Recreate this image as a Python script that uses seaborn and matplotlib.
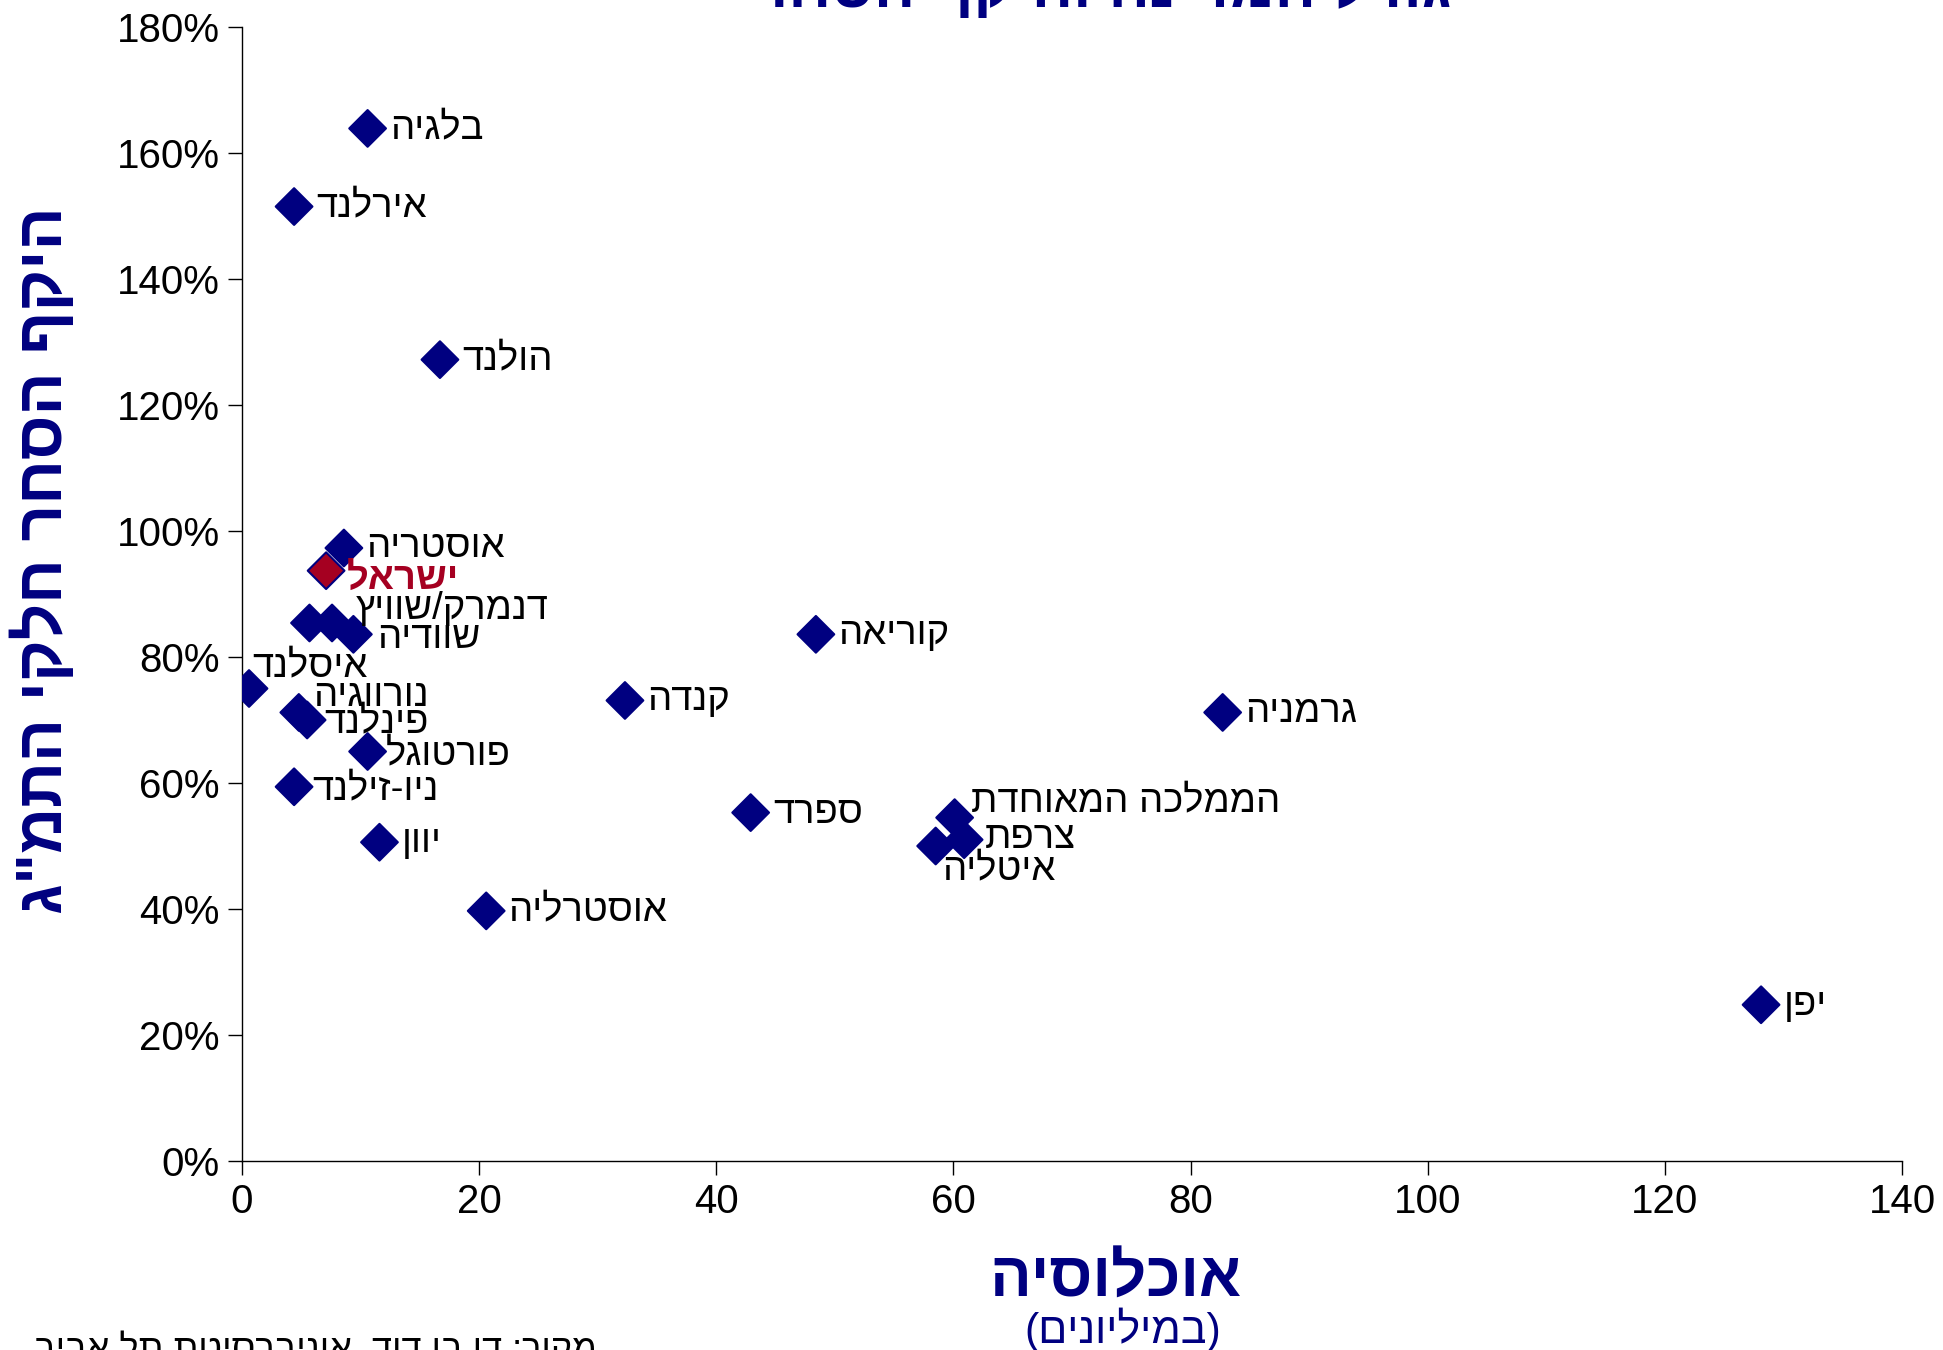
import numpy as np
import pandas as pd
import seaborn as sns
import matplotlib.pyplot as plt
from matplotlib.ticker import PercentFormatter

# countries, population (millions) and trade / GDP
countries = ['בלגיה', 'אירלנד', 'הולנד', 'אוסטריה', 'ישראל', 'דנמרק', 'שוויץ',
             'שוודיה', 'איסלנד', 'נורווגיה', 'פינלנד', 'פורטוגל', 'ניו-זילנד',
             'יוון', 'אוסטרליה', 'קנדה', 'ספרד', 'קוריאה', 'גרמניה',
             'הממלכה המאוחדת', 'צרפת', 'איטליה', 'יפן']
population = [10.6, 4.4, 16.7, 8.6, 7.1, 5.7, 7.6, 9.4, 0.6, 4.8, 5.5, 10.6, 4.4,
              11.6, 20.6, 32.3, 42.9, 48.4, 82.7, 60.1, 60.9, 58.5, 128.1]
trade = [1.639, 1.515, 1.272, 0.973, 0.937, 0.854, 0.854, 0.836, 0.750, 0.712,
         0.700, 0.650, 0.594, 0.506, 0.397, 0.731, 0.553, 0.836, 0.712, 0.545,
         0.510, 0.500, 0.248]

# label text shown next to each point (None = no label) and offset in points
labels = {'דנמרק': None, 'שוויץ': 'דנמרק/שוויץ'}
offsets = {'איסלנד': (2, 16), 'נורווגיה': (10, 12), 'פינלנד': (12, -2),
           'פורטוגל': (13, -2), 'ניו-זילנד': (13, -2), 'שוויץ': (17, 10),
           'שוודיה': (17, -3), 'ישראל': (15, -6), 'אוסטריה': (16, 1),
           'הממלכה המאוחדת': (12, 12), 'צרפת': (15, 1), 'איטליה': (5, -17)}

NAVY = '#000080'
RED = '#A50021'
FONT = ['Liberation Sans', 'DejaVu Sans']


def rtl(s):
    # matplotlib has no bidi support: lay Hebrew out visually
    swap = {'(': ')', ')': '('}
    return ''.join(swap.get(c, c) for c in s[::-1])


df = pd.DataFrame({'country': countries, 'pop': population, 'trade': trade})
df['israel'] = df['country'] == 'ישראל'

sns.set_style('white')
plt.rcParams['font.family'] = FONT
plt.rcParams['text.color'] = 'black'

fig = plt.figure(figsize=(19.43, 13.5), dpi=100)
ax = fig.add_axes([0.1245, 0.14, 0.8545, 0.84])

sns.scatterplot(data=df, x='pop', y='trade', hue='israel',
                palette={False: NAVY, True: RED}, marker='D', s=350,
                edgecolor=NAVY, linewidth=1.5, legend=False, ax=ax, zorder=3)

for c, x, y in zip(countries, population, trade):
    text = labels.get(c, c)
    if text is None:
        continue
    dx, dy = offsets.get(c, (16, 0))
    isr = c == 'ישראל'
    ax.annotate(rtl(text), (x, y), xytext=(dx, dy), textcoords='offset points',
                ha='left', va='center', fontsize=27.5,
                color=RED if isr else 'black',
                fontweight='bold' if isr else 'normal', zorder=4)

ax.set_xlim(0, 140)
ax.set_ylim(0, 1.8)
ax.set_xticks(np.arange(0, 141, 20))
ax.set_yticks(np.arange(0, 1.81, 0.2))
ax.yaxis.set_major_formatter(PercentFormatter(1.0, decimals=0))
ax.tick_params(axis='both', labelsize=29, length=10, width=1, direction='out',
               color='black', labelcolor='black', bottom=True, left=True, pad=6)
sns.despine(ax=ax)
for sp in ['left', 'bottom']:
    ax.spines[sp].set_color('black')
    ax.spines[sp].set_linewidth(1)
ax.set_xlabel('')
ax.set_ylabel('')

fig.text(0.574, 0.051, rtl('אוכלוסיה'), ha='center', va='center',
         fontsize=44.5, fontweight='bold', color=NAVY)
fig.text(0.578, 0.015, rtl('(במיליונים)'), ha='center', va='center',
         fontsize=31, color=NAVY)
fig.text(0.022, 0.585, rtl('היקף הסחר חלקי התמ"ג'), ha='center', va='center',
         rotation=90, fontsize=46, fontweight='bold', color=NAVY)
fig.text(0.307, 0.0, rtl('מקור: דן בן דוד, אוניברסיטת תל אביב'), ha='right',
         va='center', fontsize=26, color='black')
fig.text(0.567, 0.995, rtl('גודל המדינה והיקף הסחר'), ha='center',
         va='baseline', fontsize=44, fontweight='bold', color=NAVY)

fig.savefig('out.png', dpi=100)
